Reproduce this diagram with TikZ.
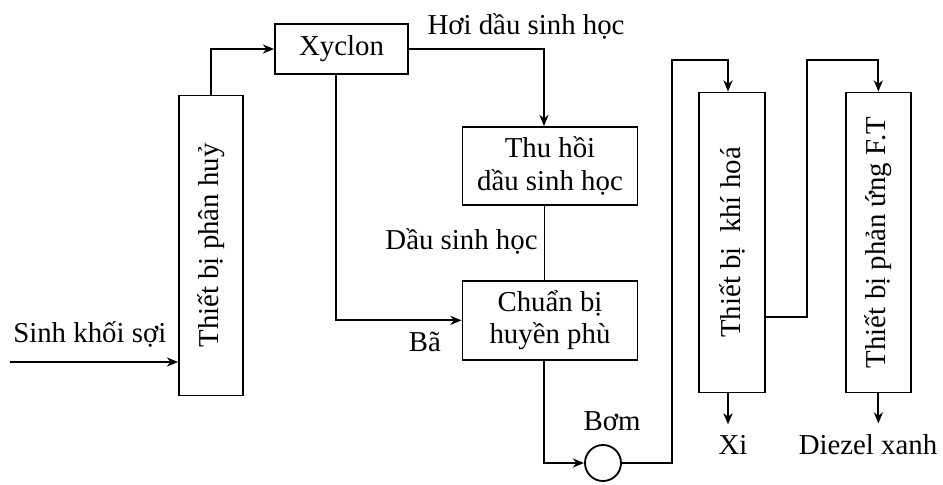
\documentclass[tikz,border=0pt]{standalone}
\usepackage{fontspec}
\setmainfont{Liberation Serif}
\usepackage{tikz}
\usetikzlibrary{arrows.meta, positioning}

\begin{document}
\begin{tikzpicture}[
  x=0.025cm, y=-0.025cm,
  unit/.style={
    rectangle, draw=black, line width=1.3pt,
    text centered, align=center, inner sep=2pt,
    font=\fontsize{20.5}{23}\selectfont
  },
  column/.style={
    unit, minimum width=#1, minimum height=7.5cm
  },
  pump/.style={circle, draw=black, line width=1.3pt, minimum size=0.9cm, inner sep=0pt},
  lbl/.style={inner sep=0pt, font=\fontsize{20.5}{23}\selectfont},
  flow/.style={-{Stealth[length=8pt,width=6.5pt]}, line width=1.3pt},
  pipe/.style={line width=1.3pt},
  thin/.style={line width=0.7pt}
]
\useasboundingbox (0,0) rectangle (943,485);

\node[column=1.6cm] (decomp) at (211,245.5) {\rotatebox{90}{Thiết bị phân huỷ}};
\node[unit, minimum width=3.325cm, minimum height=1.25cm] (xyclon) at (341.5,49) {Xyclon};
\node[unit, minimum width=4.375cm, minimum height=1.95cm] (recover) at (550,166) {Thu hồi\\dầu sinh học};
\node[unit, minimum width=4.375cm, minimum height=1.975cm, below=1.85cm of recover] (slurry) {Chuẩn bị\\huyền phù};
\node[pump] (pump) at (603,463) {};
\node[column=1.65cm] (gasifier) at (732,242.5) {\rotatebox{90}{Thiết bị~ khí hoá}};
\node[column=1.625cm, right=1.975cm of gasifier] (ftreact) {\rotatebox{90}{Thiết bị phản ứng F.T}};

\node[lbl, anchor=base west] (feedlbl) at (13,343) {Sinh khối sợi};
\node[lbl, anchor=base] (vaporlbl) at (526,35) {Hơi dầu sinh học};
\node[lbl, anchor=base] (oillbl) at (461.5,250) {Dầu sinh học};
\node[lbl, anchor=base] (residue) at (425,352) {Bã};
\node[lbl, anchor=base] (pumplbl) at (612,430) {Bơm};
\node[lbl, anchor=base] (xi) at (733,455) {Xi};
\node[lbl, anchor=base] (diesel) at (868,455) {Diezel xanh};

\coordinate (feed) at (10,362);
\coordinate (riseA) at (672,60);
\coordinate (riseB) at (807,60);

\draw[flow] (feed) -- (feed -| decomp.west);
\draw[flow] (decomp.north) |- (xyclon.west);
\draw[flow] (xyclon.east) -| ([xshift=-0.15cm]recover.north);
\draw[thin] ([xshift=-0.15cm]recover.south) -- ([xshift=-0.15cm]slurry.north);
\draw[flow] ([xshift=-0.14cm]xyclon.south) |- (slurry.west);
\draw[flow] ([xshift=-0.15cm]slurry.south) |- (pump.west);
\draw[flow] (pump.east) -| (riseA) -| ([xshift=-0.1cm]gasifier.north);
\draw[flow] ([yshift=-1.86cm]gasifier.east) -| (riseB) -| (ftreact.north);
\draw[flow, shorten >=0.28cm] ([xshift=-0.1cm]gasifier.south) -- ([xshift=-0.1cm]gasifier.south |- xi.north);
\draw[flow, shorten >=0.28cm] (ftreact.south) -- (ftreact.south |- diesel.north);

\end{tikzpicture}
\end{document}
